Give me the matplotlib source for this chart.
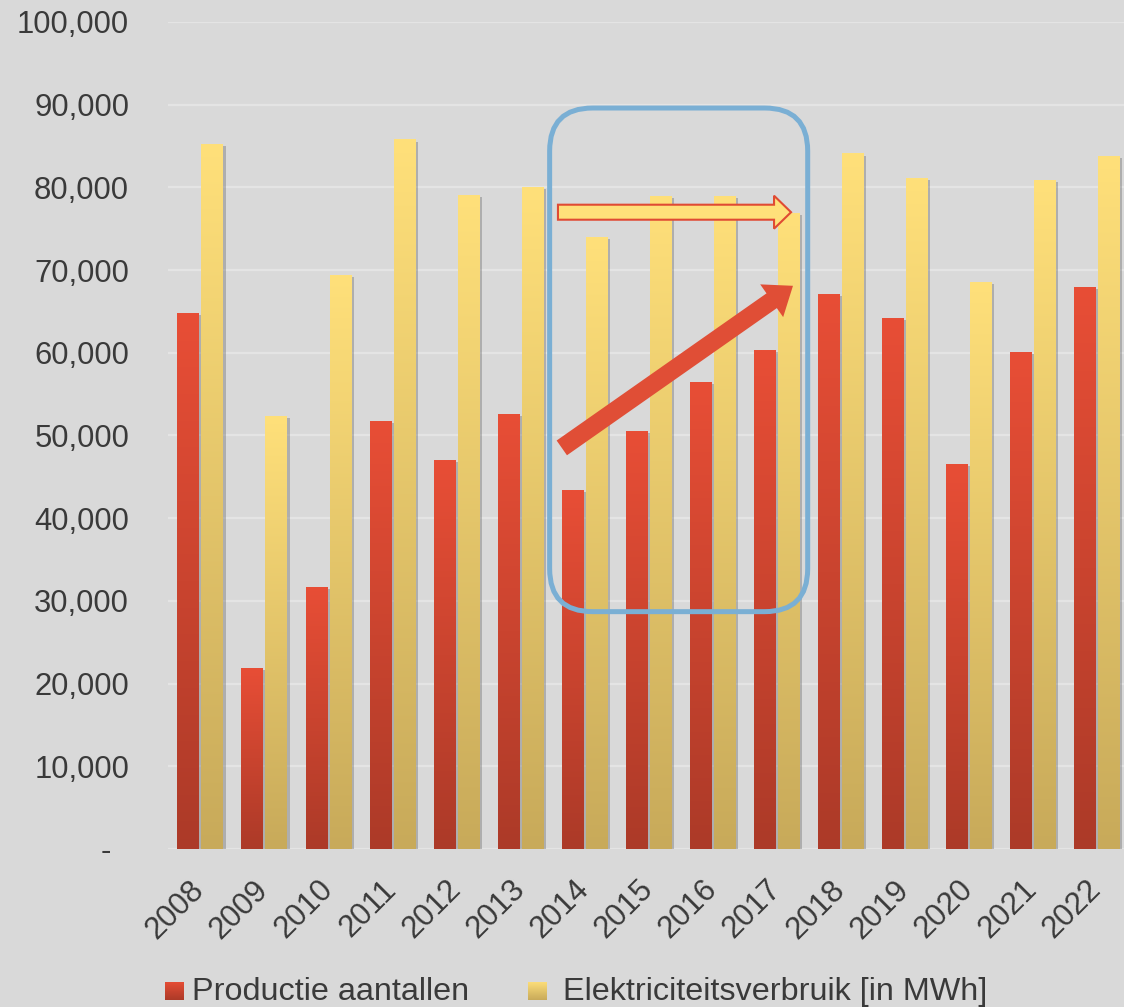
import numpy as np
import matplotlib
matplotlib.use('Agg')
import matplotlib.pyplot as plt
import matplotlib.patches as mpatches
import matplotlib.patheffects as pe
from matplotlib.colors import LinearSegmentedColormap
from matplotlib.transforms import IdentityTransform

# ---------------- data ----------------
years = [str(y) for y in range(2008, 2023)]
productie = [64800, 21900, 31700, 51750, 47000, 52600, 43400, 50500,
             56500, 60300, 67100, 64200, 46600, 60100, 68000]
elektriciteit = [85300, 52400, 69400, 85800, 79100, 80000, 74000, 79000,
                 79000, 76900, 84100, 81100, 68600, 80900, 83800]
yticks = list(range(0, 100001, 10000))
ytick_labels = ['-  '] + [f'{v:,}' for v in yticks[1:]]
series_names = ['Productie aantallen', 'Elektriciteitsverbruik [in MWh]']

# ---------------- style ----------------
W, H = 1124, 1007
BG = '#d9d9d9'
TXT = '#3a3a3a'
RED_TOP, RED_BOT = '#e84e36', '#ac3a28'
YEL_TOP, YEL_BOT = '#ffe07a', '#c8aa5a'

plt.rcParams['font.family'] = ['Liberation Sans', 'DejaVu Sans']

fig = plt.figure(figsize=(W / 100, H / 100), dpi=100, facecolor=BG)
ax = fig.add_axes([168 / W, (H - 849) / H, (W - 168) / W, (849 - 22) / H])
ax.set_facecolor(BG)

red_cmap = LinearSegmentedColormap.from_list('r', [RED_BOT, RED_TOP])
yel_cmap = LinearSegmentedColormap.from_list('y', [YEL_BOT, YEL_TOP])
grad = np.linspace(0, 1, 256).reshape(-1, 1)

x = np.arange(len(years))
bw = 0.33
off = 0.1875


def gradient_bars(xpos, vals, cmap, base_color):
    bars = ax.bar(xpos, vals, bw, color=base_color, zorder=3, linewidth=0)
    for b in bars:
        b.set_path_effects([pe.SimplePatchShadow(offset=(2.2, -1.5), shadow_rgbFace='#7a7a7a', alpha=0.45),
                            pe.Normal()])
        x0 = b.get_x()
        im = ax.imshow(grad, cmap=cmap, origin='lower', aspect='auto',
                       extent=(x0, x0 + b.get_width(), 0, b.get_height()), zorder=3.5)
        im.set_clip_path(b)
    return bars


gradient_bars(x - off, productie, red_cmap, RED_TOP)
gradient_bars(x + off, elektriciteit, yel_cmap, YEL_TOP)

ax.set_xlim(-0.5, (W - 200.5) / 64)
ax.set_ylim(0, 100000)

ax.set_yticks(yticks)
ax.set_yticklabels(ytick_labels)
ax.yaxis.grid(True, color='#e4e4e4', lw=1.6)
ax.set_axisbelow(True)
for s in ax.spines.values():
    s.set_visible(False)
ax.tick_params(axis='y', length=0, pad=28, labelsize=22.3, labelcolor=TXT)
ax.set_xticks(x)
ax.set_xticklabels(years, rotation=45, ha='right', va='center', rotation_mode='anchor')
ax.tick_params(axis='x', length=0, pad=26, labelsize=22.3, labelcolor=TXT)

# ---------------- legend ----------------
for (lx, tx, cmap, name) in [(165, 192, red_cmap, series_names[0]),
                             (528, 563, yel_cmap, series_names[1])]:
    lax = fig.add_axes([lx / W, (H - 1000) / H, 19 / W, 18 / H])
    lax.imshow(grad, cmap=cmap, origin='lower', aspect='auto')
    lax.axis('off')
    fig.text(tx / W, (H - 1000) / H, name, fontsize=23.3, color=TXT, va='baseline', ha='left')


# ---------------- annotations ----------------
def px(xd, yd):
    return ax.transData.transform((xd, yd))


bx0, by0 = px(5.46, 28700)
bx1, by1 = px(9.49, 89600)
box = mpatches.FancyBboxPatch((bx0, by0), bx1 - bx0, by1 - by0,
                              boxstyle='round,pad=0,rounding_size=43',
                              transform=IdentityTransform(), fill=False,
                              ec='#7aafd4', lw=3.6, zorder=6)
fig.add_artist(box)

ax0, ay0 = px(5.59, 77000)
ax1, ay1 = px(9.23, 77000)
harrow = mpatches.FancyArrow(ax0, ay0, ax1 - ax0, ay1 - ay0, width=15, head_width=33,
                             head_length=17, length_includes_head=True,
                             fc='#ffe07a', ec='#e04a33', lw=1.5,
                             transform=IdentityTransform(), zorder=7)
fig.add_artist(harrow)

rx0, ry0 = px(5.65, 48500)
rx1, ry1 = px(9.26, 68100)
rarrow = mpatches.FancyArrow(rx0, ry0, rx1 - rx0, ry1 - ry0, width=18, head_width=40,
                             head_length=26, length_includes_head=True,
                             fc='#e04e36', ec='none', lw=0,
                             transform=IdentityTransform(), zorder=7)
fig.add_artist(rarrow)

fig.savefig('out.png', dpi=100, facecolor=BG)
